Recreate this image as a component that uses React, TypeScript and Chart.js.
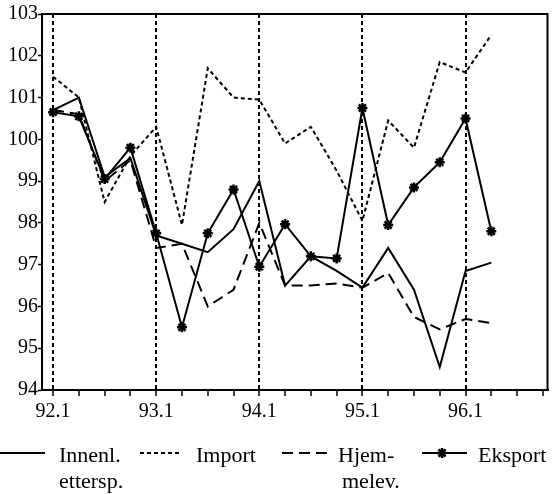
import React, { useEffect, useRef } from 'react';
import { Chart, registerables } from 'chart.js';

Chart.register(...registerables);

const FONT = '"Liberation Serif", "Times New Roman", serif';

// x-axis quarters (tick labels); data runs 92.1 .. 96.2
const quarters = [
  '92.1', '92.2', '92.3', '92.4',
  '93.1', '93.2', '93.3', '93.4',
  '94.1', '94.2', '94.3', '94.4',
  '95.1', '95.2', '95.3', '95.4',
  '96.1', '96.2', '96.3', '96.4',
];

const innenl = [100.7, 101.0, 99.1, 99.55, 97.7, 97.5, 97.3, 97.85, 99.0, 96.5, 97.2, 96.85, 96.45, 97.4, 96.4, 94.55, 96.85, 97.05];
const importSeries = [101.5, 101.0, 98.5, 99.6, 100.3, 97.95, 101.7, 101.0, 100.95, 99.9, 100.3, 99.25, 98.05, 100.45, 99.8, 101.85, 101.6, 102.5];
const hjemmelev = [100.7, 100.6, 99.0, 99.5, 97.4, 97.5, 96.0, 96.4, 98.0, 96.5, 96.5, 96.55, 96.45, 96.8, 95.75, 95.45, 95.7, 95.6];
const eksport = [100.65, 100.55, 99.05, 99.8, 97.75, 95.5, 97.75, 98.8, 96.95, 97.97, 97.2, 97.15, 100.75, 97.95, 98.85, 99.45, 100.5, 97.8];

const yTicks = [94, 95, 96, 97, 98, 99, 100, 101, 102, 103];

const legendLabels = [
  ['Innenl.', 'ettersp.'],
  ['Import'],
  ['Hjem-', 'melev.'],
  ['Eksport'],
];

const toXY = (arr: number[]) => arr.map((y, i) => ({ x: i, y }));

export default function App() {
  const ref = useRef<HTMLCanvasElement>(null);

  useEffect(() => {
    if (!ref.current) return;

    const drawStar = (ctx: CanvasRenderingContext2D, x: number, y: number, r: number) => {
      ctx.beginPath();
      ctx.moveTo(x - r, y); ctx.lineTo(x + r, y);
      ctx.moveTo(x, y - r); ctx.lineTo(x, y + r);
      const d = r * 0.7071;
      ctx.moveTo(x - d, y - d); ctx.lineTo(x + d, y + d);
      ctx.moveTo(x - d, y + d); ctx.lineTo(x + d, y - d);
      ctx.stroke();
    };

    const framePlugin = {
      id: 'frameAndLegend',
      afterDraw(chart: any) {
        const { ctx, chartArea: a } = chart;
        ctx.save();
        ctx.strokeStyle = '#000';
        ctx.lineWidth = 2;
        ctx.setLineDash([]);
        ctx.beginPath();
        ctx.moveTo(a.left, a.top);
        ctx.lineTo(a.right, a.top);
        ctx.lineTo(a.right, a.bottom);
        ctx.stroke();

        // legend
        const ly = 453;
        ctx.font = `22px ${FONT}`;
        ctx.fillStyle = '#000';
        ctx.textBaseline = 'alphabetic';
        ctx.textAlign = 'left';

        // Innenl.
        ctx.lineWidth = 2;
        ctx.beginPath(); ctx.moveTo(0, ly); ctx.lineTo(45, ly); ctx.stroke();
        ctx.fillText(legendLabels[0][0], 59, 462);
        ctx.fillText(legendLabels[0][1], 59, 488);

        // Import
        ctx.setLineDash([4, 3]);
        ctx.beginPath(); ctx.moveTo(140, ly); ctx.lineTo(182, ly); ctx.stroke();
        ctx.setLineDash([]);
        ctx.fillText(legendLabels[1][0], 196, 462);

        // Hjemmelev.
        ctx.setLineDash([11, 6]);
        ctx.beginPath(); ctx.moveTo(282, ly); ctx.lineTo(328, ly); ctx.stroke();
        ctx.setLineDash([]);
        ctx.fillText(legendLabels[2][0], 338, 462);
        ctx.fillText(legendLabels[2][1], 342, 488);

        // Eksport
        ctx.beginPath(); ctx.moveTo(422, ly); ctx.lineTo(467, ly); ctx.stroke();
        ctx.lineWidth = 2.5;
        drawStar(ctx, 442, ly, 5);
        ctx.fillText(legendLabels[3][0], 478, 462);

        ctx.restore();
      },
    };

    const chart = new Chart(ref.current, {
      type: 'line',
      data: {
        datasets: [
          {
            label: 'Innenl. ettersp.',
            data: toXY(innenl),
            borderColor: '#000',
            borderWidth: 2,
            pointRadius: 0,
            tension: 0,
          },
          {
            label: 'Import',
            data: toXY(importSeries),
            borderColor: '#000',
            borderWidth: 2,
            borderDash: [4, 3],
            pointRadius: 0,
            tension: 0,
          },
          {
            label: 'Hjemmelev.',
            data: toXY(hjemmelev),
            borderColor: '#000',
            borderWidth: 2,
            borderDash: [11, 6],
            pointRadius: 0,
            tension: 0,
          },
          {
            label: 'Eksport',
            data: toXY(eksport),
            borderColor: '#000',
            backgroundColor: '#000',
            borderWidth: 2,
            pointStyle: 'star',
            pointRadius: 5,
            pointBorderWidth: 2.5,
            pointBorderColor: '#000',
            tension: 0,
          },
        ],
      },
      options: {
        responsive: false,
        animation: false,
        devicePixelRatio: 1,
        layout: { padding: { top: 14, right: 7, left: 0, bottom: 0 } },
        plugins: {
          legend: { display: false },
          tooltip: { enabled: false },
        },
        scales: {
          x: {
            type: 'linear',
            min: -0.43,
            max: 19.18,
            afterBuildTicks: (s: any) => {
              s.ticks = quarters.map((_, i) => ({ value: i }));
            },
            afterFit: (s: any) => { s.height = 104; },
            ticks: {
              autoSkip: false,
              maxRotation: 0,
              minRotation: 0,
              padding: 4,
              color: '#000',
              font: { family: FONT, size: 20 },
              callback: (v: any) => {
                const q = quarters[Math.round(Number(v))];
                return q && q.endsWith('.1') ? q : '';
              },
            },
            grid: {
              color: (c: any) => (c.tick && Math.round(c.tick.value) % 4 === 0 ? '#000' : 'rgba(0,0,0,0)'),
              lineWidth: 2,
              tickColor: '#000',
              tickLength: 6,
              tickWidth: 1.5,
            },
            border: { display: true, color: '#000', width: 2, dash: [4, 3] },
          },
          y: {
            type: 'linear',
            min: 94,
            max: 103,
            afterBuildTicks: (s: any) => {
              s.ticks = yTicks.map((v) => ({ value: v }));
            },
            afterFit: (s: any) => { s.width = 42; },
            ticks: {
              padding: 0,
              color: '#000',
              font: { family: FONT, size: 20 },
              callback: (v: any) => String(v),
            },
            grid: {
              drawOnChartArea: false,
              tickColor: '#000',
              tickLength: 4,
              tickWidth: 1.5,
            },
            border: { display: true, color: '#000', width: 2 },
          },
        },
      },
      plugins: [framePlugin],
    } as any);

    return () => chart.destroy();
  }, []);

  return (
    <div style={{ position: 'fixed', left: 0, top: 0, width: 555, height: 494, background: '#fff' }}>
      <canvas ref={ref} width={555} height={494} style={{ display: 'block', width: 555, height: 494 }} />
    </div>
  );
}
